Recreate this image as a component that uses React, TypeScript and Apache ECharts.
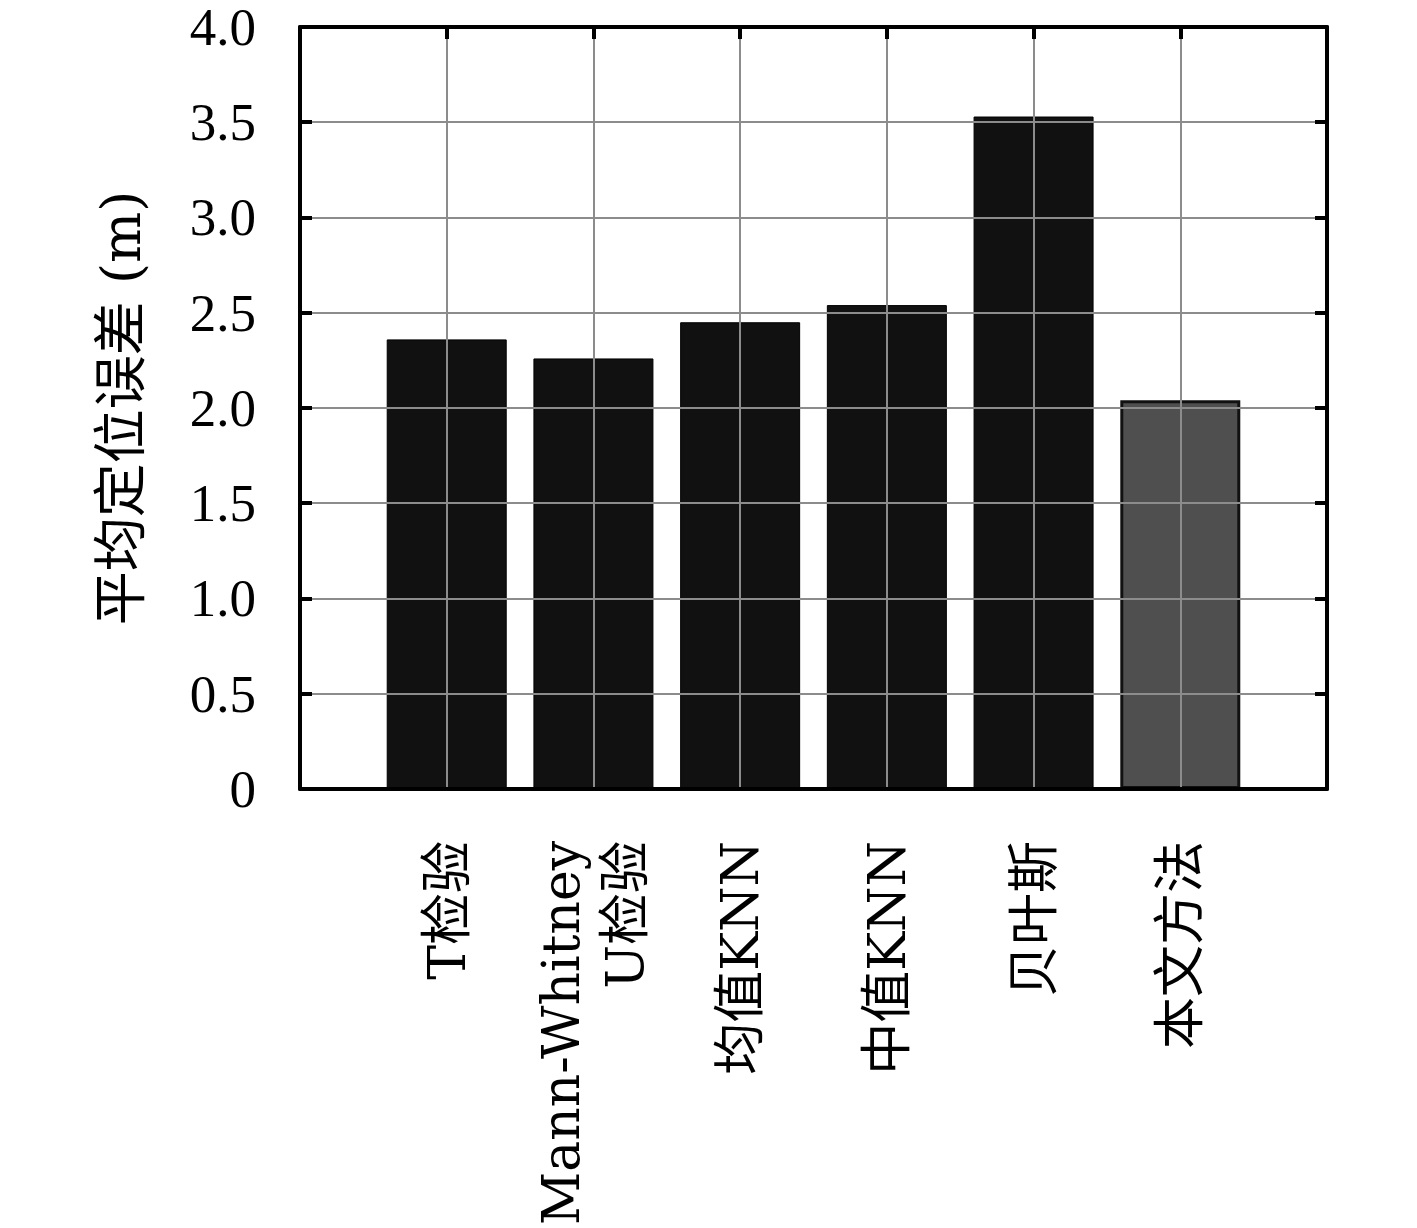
import React, { useEffect, useRef } from "react";
import * as echarts from "echarts";

const categories = ["T检验", "Mann-Whitney\nU检验", "均值KNN", "中值KNN", "贝叶斯", "本文方法"];
const values = [2.36, 2.26, 2.45, 2.54, 3.53, 2.04];
const barFills = ["#111111", "#111111", "#111111", "#111111", "#111111", "#4f4f4f"];
const yTicks = { min: 0, max: 4, interval: 0.5 };
const yAxisTitle = "平均定位误差 (m)";

export default function App() {
  const ref = useRef<HTMLDivElement>(null);
  useEffect(() => {
    if (!ref.current) return;
    const chart = echarts.init(ref.current, null, { renderer: "svg" });
    const axisData = ["", ...categories, ""];
    const seriesData: any[] = ["-"];
    values.forEach((v, i) => {
      seriesData.push({
        value: v,
        itemStyle: {
          color: barFills[i],
          borderColor: i === 5 ? "#111111" : "#000000",
          borderWidth: i === 5 ? 3 : 1,
        },
      });
    });
    seriesData.push("-");
    const serif = "'Liberation Serif', 'Noto Sans CJK SC', serif";
    const wideSerif = "'DejaVu Serif', 'Noto Sans CJK SC', serif";
    chart.setOption({
      animation: false,
      backgroundColor: "#ffffff",
      grid: { left: 300, right: 90, top: 27, bottom: 436, containLabel: false },
      xAxis: [
        {
          type: "category",
          data: axisData,
          boundaryGap: false,
          position: "bottom",
          axisLine: { show: true, onZero: false, lineStyle: { color: "#000", width: 4 } },
          axisTick: { show: false },
          splitLine: { show: true, lineStyle: { color: "#8c8c8c", width: 2 } },
          axisLabel: {
            rotate: 90,
            margin: 52,
            interval: 0,
            color: "#000",
            fontSize: 52,
            lineHeight: 64,
            fontFamily: wideSerif,
          },
          z: 5,
        },
        {
          type: "category",
          data: axisData,
          boundaryGap: false,
          position: "top",
          axisLine: { show: true, onZero: false, lineStyle: { color: "#000", width: 4 } },
          axisTick: { show: true, inside: true, length: 12, lineStyle: { color: "#000", width: 4 } },
          axisLabel: { show: false },
          splitLine: { show: false },
          z: 5,
        },
      ],
      yAxis: [
        {
          type: "value",
          min: yTicks.min,
          max: yTicks.max,
          interval: yTicks.interval,
          position: "left",
          name: yAxisTitle,
          nameLocation: "middle",
          nameGap: 152,
          nameRotate: 90,
          nameTextStyle: { color: "#000", fontSize: 54, fontFamily: wideSerif },
          axisLine: { show: true, onZero: false, lineStyle: { color: "#000", width: 4 } },
          axisTick: { show: true, inside: true, length: 12, lineStyle: { color: "#000", width: 4 } },
          splitLine: { show: true, lineStyle: { color: "#8c8c8c", width: 2 } },
          axisLabel: {
            margin: 44,
            color: "#000",
            fontSize: 53,
            fontFamily: serif,
            formatter: (v: number) => (v === 0 ? "0" : v.toFixed(1)),
          },
          z: 5,
        },
        {
          type: "value",
          min: yTicks.min,
          max: yTicks.max,
          interval: yTicks.interval,
          position: "right",
          axisLine: { show: true, onZero: false, lineStyle: { color: "#000", width: 4 } },
          axisTick: { show: true, inside: true, length: 12, lineStyle: { color: "#000", width: 4 } },
          splitLine: { show: false },
          axisLabel: { show: false },
          z: 5,
        },
      ],
      series: [
        {
          type: "bar",
          xAxisIndex: 0,
          yAxisIndex: 0,
          data: seriesData,
          barWidth: 120,
          z: 3,
        },
      ],
    });
    return () => chart.dispose();
  }, []);
  return (
    <div
      ref={ref}
      style={{ position: "fixed", left: 0, top: 0, width: 1417, height: 1228, background: "#fff" }}
    />
  );
}
